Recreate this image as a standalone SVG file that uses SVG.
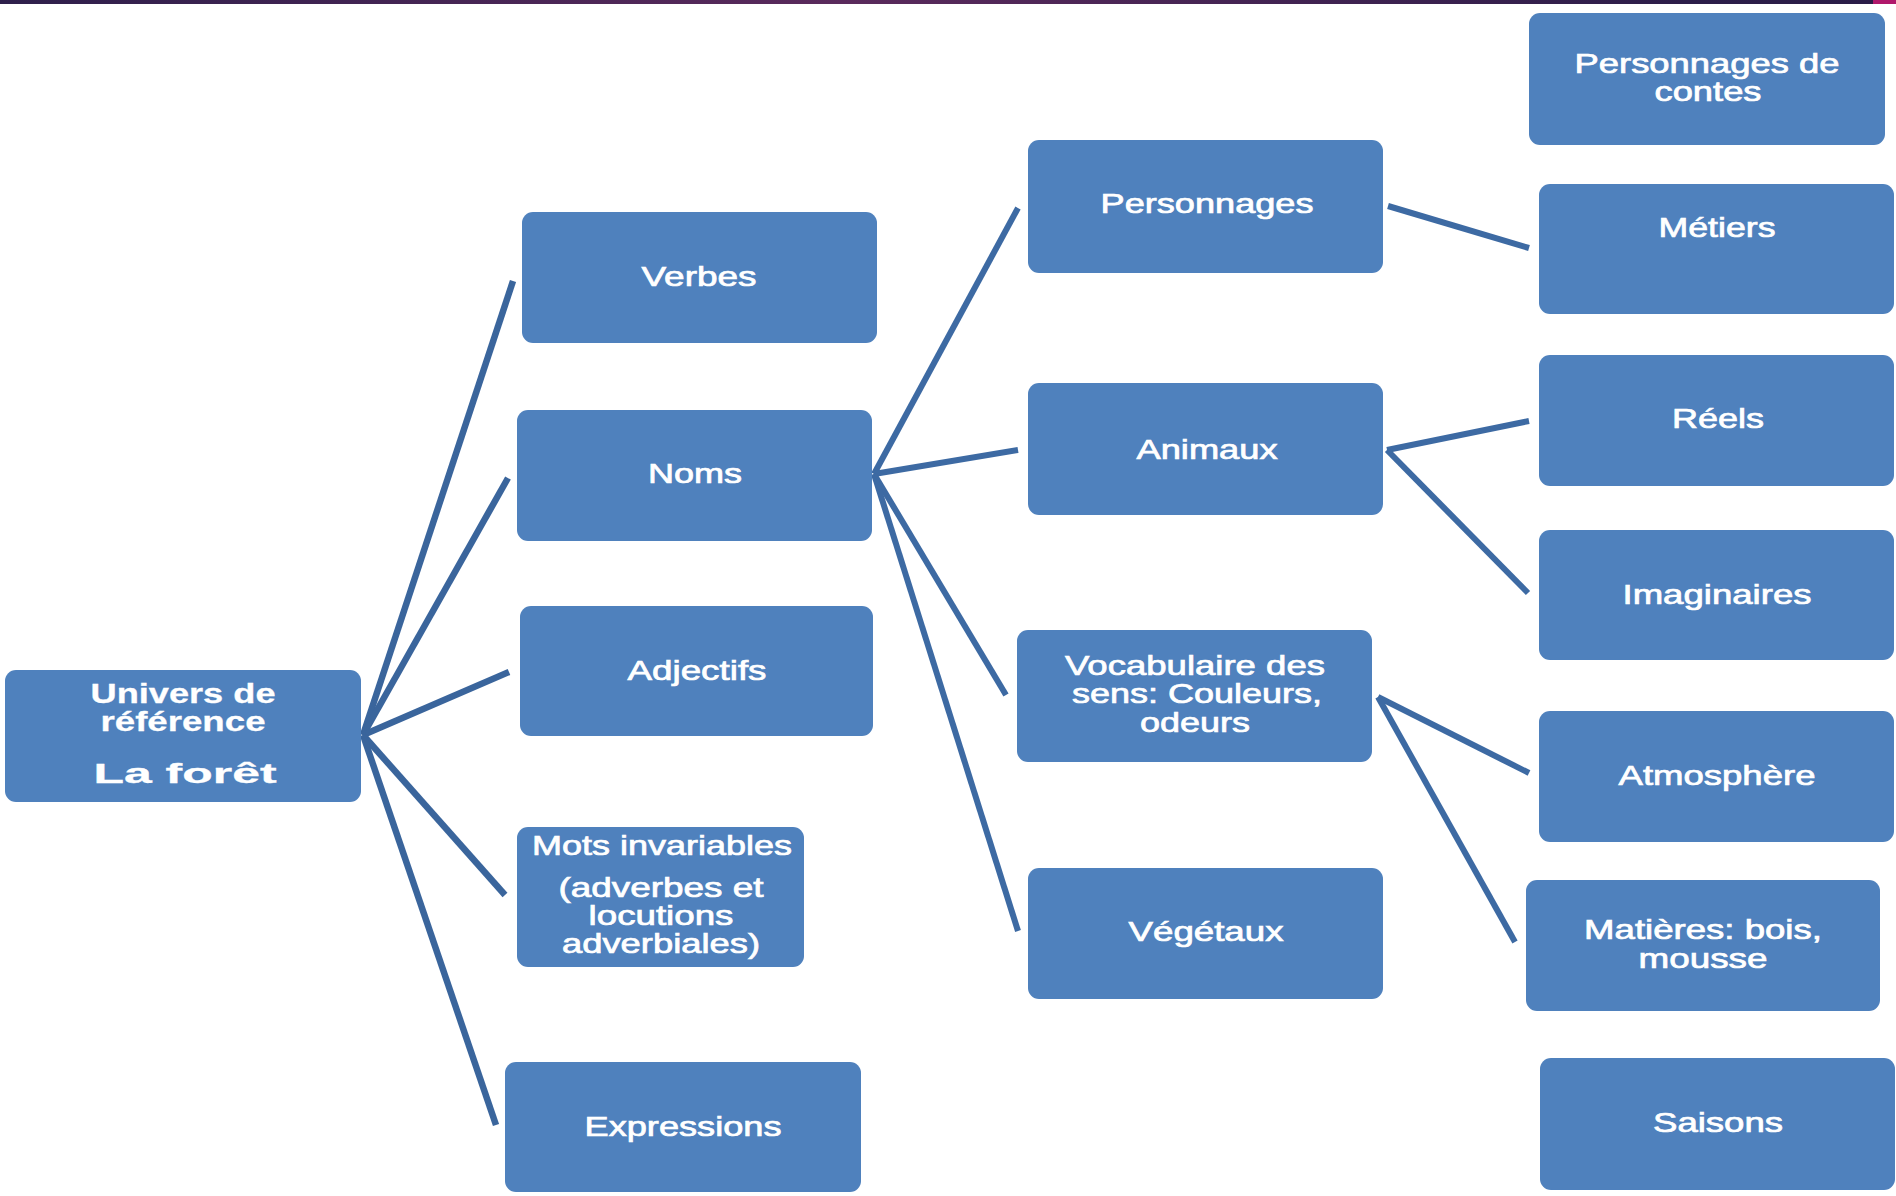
<svg xmlns="http://www.w3.org/2000/svg" width="1896" height="1196" viewBox="0 0 1896 1196">
<defs>
<linearGradient id="bar" x1="0" y1="0" x2="1" y2="0">
<stop offset="0" stop-color="#2e1f4b"/>
<stop offset="0.45" stop-color="#5a2a5c"/>
<stop offset="0.9" stop-color="#2c1d49"/>
<stop offset="1" stop-color="#2a1c47"/>
</linearGradient>
<style>
.box{fill:#4f81bd;}
.t{font-family:"Liberation Sans",Arial,sans-serif;font-size:27px;fill:#ffffff;stroke:#ffffff;stroke-width:0.7px;text-anchor:middle;}
.b{font-weight:bold;stroke-width:0.3px;}
.c line{stroke:#3d6aa3;stroke-width:6;stroke-linecap:butt;}
.c .d{stroke:#3a659c;stroke-width:6.5;}
</style>
</defs>
<rect x="0" y="0" width="1896" height="1196" fill="#ffffff"/>
<rect x="0" y="0" width="1873" height="4" fill="url(#bar)"/>
<rect x="1873" y="0" width="23" height="4" fill="#b0186b"/>

<g id="connectors" class="c">
<line class="d" x1="363" y1="735" x2="513" y2="281"/>
<line class="d" x1="363" y1="735" x2="508" y2="478"/>
<line class="d" x1="363" y1="735" x2="509" y2="672"/>
<line class="d" x1="363" y1="735" x2="505" y2="895"/>
<line class="d" x1="363" y1="735" x2="496" y2="1125"/>
<line x1="874" y1="474" x2="1018" y2="208"/>
<line x1="874" y1="474" x2="1018" y2="450"/>
<line x1="874" y1="474" x2="1006" y2="695"/>
<line x1="874" y1="474" x2="1018" y2="931"/>
<line x1="1388" y1="206" x2="1529" y2="248"/>
<line x1="1387" y1="450" x2="1529" y2="421"/>
<line x1="1387" y1="450" x2="1528" y2="593"/>
<line x1="1378" y1="697" x2="1529" y2="773"/>
<line x1="1378" y1="697" x2="1515" y2="942"/>
</g>

<g id="univers">
<rect class="box" x="5" y="670" width="356" height="132" rx="11"/>
<text class="t b" font-size="25" transform="translate(183 703) scale(1.42 1)" textLength="130.3" lengthAdjust="spacingAndGlyphs">Univers de</text>
<text class="t b" font-size="25" transform="translate(183 731) scale(1.42 1)" textLength="116.2" lengthAdjust="spacingAndGlyphs">référence</text>
<text class="t b" font-size="37" transform="translate(185 783) scale(1.42 1)" textLength="128.9" lengthAdjust="spacingAndGlyphs">La forêt</text>
</g>
<g id="verbes">
<rect class="box" x="522" y="212" width="355" height="131" rx="11"/>
<text class="t" transform="translate(699 286) scale(1.3 1)" textLength="88.5" lengthAdjust="spacingAndGlyphs">Verbes</text>
</g>
<g id="noms">
<rect class="box" x="517" y="410" width="355" height="131" rx="11"/>
<text class="t" transform="translate(695 483) scale(1.3 1)" textLength="72.3" lengthAdjust="spacingAndGlyphs">Noms</text>
</g>
<g id="adjectifs">
<rect class="box" x="520" y="606" width="353" height="130" rx="11"/>
<text class="t" transform="translate(697 680) scale(1.3 1)" textLength="106.9" lengthAdjust="spacingAndGlyphs">Adjectifs</text>
</g>
<g id="mots">
<rect class="box" x="517" y="827" width="287" height="140" rx="11"/>
<text class="t" transform="translate(662 855) scale(1.3 1)" textLength="200" lengthAdjust="spacingAndGlyphs">Mots invariables</text>
<text class="t" transform="translate(661 897) scale(1.3 1)" textLength="157.7" lengthAdjust="spacingAndGlyphs">(adverbes et</text>
<text class="t" transform="translate(661 925) scale(1.3 1)" textLength="111.5" lengthAdjust="spacingAndGlyphs">locutions</text>
<text class="t" transform="translate(661 953) scale(1.3 1)" textLength="152.3" lengthAdjust="spacingAndGlyphs">adverbiales)</text>
</g>
<g id="expressions">
<rect class="box" x="505" y="1062" width="356" height="130" rx="11"/>
<text class="t" transform="translate(683 1136) scale(1.3 1)" textLength="151.5" lengthAdjust="spacingAndGlyphs">Expressions</text>
</g>
<g id="personnages">
<rect class="box" x="1028" y="140" width="355" height="133" rx="11"/>
<text class="t" transform="translate(1207 213) scale(1.3 1)" textLength="163.8" lengthAdjust="spacingAndGlyphs">Personnages</text>
</g>
<g id="animaux">
<rect class="box" x="1028" y="383" width="355" height="132" rx="11"/>
<text class="t" transform="translate(1207 459) scale(1.3 1)" textLength="108.5" lengthAdjust="spacingAndGlyphs">Animaux</text>
</g>
<g id="vocabulaire">
<rect class="box" x="1017" y="630" width="355" height="132" rx="11"/>
<text class="t" transform="translate(1195 675) scale(1.3 1)" textLength="200" lengthAdjust="spacingAndGlyphs">Vocabulaire des</text>
<text class="t" transform="translate(1197 703) scale(1.3 1)" textLength="192.3" lengthAdjust="spacingAndGlyphs">sens: Couleurs,</text>
<text class="t" transform="translate(1195 732) scale(1.3 1)" textLength="84.6" lengthAdjust="spacingAndGlyphs">odeurs</text>
</g>
<g id="vegetaux">
<rect class="box" x="1028" y="868" width="355" height="131" rx="11"/>
<text class="t" transform="translate(1206 941) scale(1.3 1)" textLength="119.2" lengthAdjust="spacingAndGlyphs">Végétaux</text>
</g>
<g id="contes">
<rect class="box" x="1529" y="13" width="356" height="132" rx="11"/>
<text class="t" transform="translate(1707 73) scale(1.3 1)" textLength="203.8" lengthAdjust="spacingAndGlyphs">Personnages de</text>
<text class="t" transform="translate(1708 101) scale(1.3 1)" textLength="82.3" lengthAdjust="spacingAndGlyphs">contes</text>
</g>
<g id="metiers">
<rect class="box" x="1539" y="184" width="355" height="130" rx="11"/>
<text class="t" transform="translate(1717 237) scale(1.3 1)" textLength="90" lengthAdjust="spacingAndGlyphs">Métiers</text>
</g>
<g id="reels">
<rect class="box" x="1539" y="355" width="355" height="131" rx="11"/>
<text class="t" transform="translate(1718 428) scale(1.3 1)" textLength="70.8" lengthAdjust="spacingAndGlyphs">Réels</text>
</g>
<g id="imaginaires">
<rect class="box" x="1539" y="530" width="355" height="130" rx="11"/>
<text class="t" transform="translate(1717 604) scale(1.3 1)" textLength="145.4" lengthAdjust="spacingAndGlyphs">Imaginaires</text>
</g>
<g id="atmosphere">
<rect class="box" x="1539" y="711" width="355" height="131" rx="11"/>
<text class="t" transform="translate(1717 785) scale(1.3 1)" textLength="151.5" lengthAdjust="spacingAndGlyphs">Atmosphère</text>
</g>
<g id="matieres">
<rect class="box" x="1526" y="880" width="354" height="131" rx="11"/>
<text class="t" transform="translate(1703 939) scale(1.3 1)" textLength="183" lengthAdjust="spacingAndGlyphs">Matières: bois,</text>
<text class="t" transform="translate(1703 968) scale(1.3 1)" textLength="99.2" lengthAdjust="spacingAndGlyphs">mousse</text>
</g>
<g id="saisons">
<rect class="box" x="1540" y="1058" width="355" height="132" rx="11"/>
<text class="t" transform="translate(1718 1132) scale(1.3 1)" textLength="100" lengthAdjust="spacingAndGlyphs">Saisons</text>
</g>
</svg>
